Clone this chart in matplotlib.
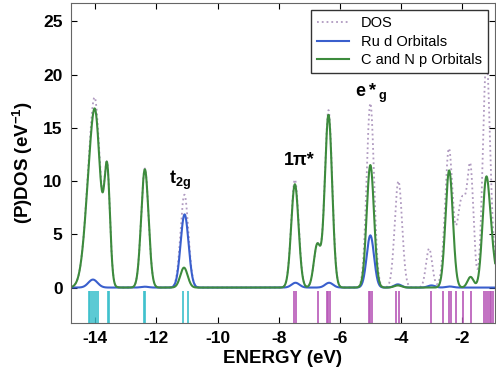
import numpy as np
import matplotlib
matplotlib.use('Agg')
import matplotlib.pyplot as plt

plt.rcParams['font.family'] = ['Liberation Sans', 'DejaVu Sans']
plt.rcParams['mathtext.fontset'] = 'custom'
plt.rcParams['mathtext.rm'] = 'Liberation Sans'
plt.rcParams['mathtext.bf'] = 'Liberation Sans:bold'
plt.rcParams['mathtext.it'] = 'Liberation Sans:italic'
plt.rcParams['axes.unicode_minus'] = False

# gaussian-broadened peaks: centre (eV), height, width (eV)
cnp_centers = [-14.05, -13.98, -13.61, -12.38, -11.10, -7.47, -6.74, -6.37, -5.00, -4.10, -2.42, -1.72, -1.21, -1.00]
cnp_heights = [15.2, 1.9, 9.6, 11.1, 1.87, 9.7, 4.0, 16.2, 11.5, 0.2, 11.0, 1.0, 9.9, 2.3]
cnp_widths = [0.22, 0.10, 0.09, 0.12, 0.12, 0.12, 0.11, 0.12, 0.12, 0.12, 0.12, 0.10, 0.12, 0.12]

ru_centers = [-14.08, -12.38, -11.08, -7.45, -6.35, -5.00, -4.10, -3.00, -2.40]
ru_heights = [0.75, 0.08, 6.87, 0.45, 0.45, 4.9, 0.3, 0.2, 0.1]
ru_widths = [0.15, 0.12, 0.13, 0.13, 0.13, 0.12, 0.12, 0.12, 0.12]

# rest of the total DOS (not Ru d, not C/N p)
rest_centers = [-14.0, -5.0, -4.08, -3.08, -2.50, -2.05, -1.90, -1.72, -1.20]
rest_heights = [0.35, 0.9, 9.5, 3.5, 2.2, 7.0, 3.0, 9.7, 11.0]
rest_widths = [0.15, 0.12, 0.12, 0.10, 0.13, 0.13, 0.10, 0.10, 0.11]

# eigenvalue sticks
occ_levels = [-14.22, -14.16, -14.10, -14.03, -13.97, -13.90, -13.60, -13.57,
              -12.40, -12.37, -11.13, -10.97]
virt_levels = [-7.49, -7.43, -6.70, -6.43, -6.38, -6.33, -5.05, -5.00, -4.96,
               -4.17, -4.05, -3.02, -2.61, -2.43, -2.37, -2.21, -1.97, -1.69,
               -1.28, -1.22, -1.16, -1.10, -1.05, -1.00]


def broaden(e, centers, heights, widths):
    out = np.zeros_like(e)
    for c, h, w in zip(centers, heights, widths):
        out += h * np.exp(-(e - c)**2 / (2 * w**2))
    return out


E = np.linspace(-15.0, -0.5, 3000)
cnp = broaden(E, cnp_centers, cnp_heights, cnp_widths)
ru = broaden(E, ru_centers, ru_heights, ru_widths)
dos = cnp + ru + broaden(E, rest_centers, rest_heights, rest_widths)

fig = plt.figure(figsize=(4.96, 3.72), dpi=100)
ax = fig.add_axes([0.143, 0.1325, 0.855, 0.859])

ax.plot(E, dos, color='#b09ac0', linestyle=':', lw=1.3, label='DOS')
ax.plot(E, ru, color='#3a5fcd', lw=1.5, label='Ru d Orbitals')
ax.plot(E, cnp, color='#3d8b3d', lw=1.5, label='C and N p Orbitals')

ax.vlines(occ_levels, -3.4, -0.35, color='#3cc0cc', lw=1.2)
ax.vlines(virt_levels, -3.4, -0.35, color='#b858b8', lw=1.2)

ax.text(-11.24, 9.7, r'$\mathbf{t_{2g}}$', fontsize=13, ha='center', va='baseline')
ax.text(-7.33, 11.5, '1π*', fontsize=13, fontweight='bold', ha='center', va='baseline')
ax.text(-4.98, 17.9, r'$\mathbf{e*_{g}}$', fontsize=13, ha='center', va='baseline')

ax.set_xlim(-14.8, -0.92)
ax.set_ylim(-3.3, 26.7)
ax.set_xticks([-14, -12, -10, -8, -6, -4, -2])
ax.set_yticks([0, 5, 10, 15, 20, 25])
ax.tick_params(direction='in', top=True, right=True, length=4, labelsize=12.5, pad=6)
for lab in ax.get_xticklabels() + ax.get_yticklabels():
    lab.set_fontweight('bold')
for s in ax.spines.values():
    s.set_color('#666666')

ax.set_xlabel('ENERGY (eV)', fontsize=13.5, fontweight='bold', labelpad=3)
ax.set_ylabel(r'(P)DOS (eV$^{\mathbf{-1}}$)', fontsize=13.5, fontweight='bold', labelpad=6)

leg = ax.legend(loc='upper right', fontsize=10.5, fancybox=False, framealpha=1,
                edgecolor='#333333', handlelength=2.2, borderaxespad=0.5,
                labelspacing=0.3)
leg.get_frame().set_linewidth(1.0)

fig.savefig('out.png', dpi=100)
